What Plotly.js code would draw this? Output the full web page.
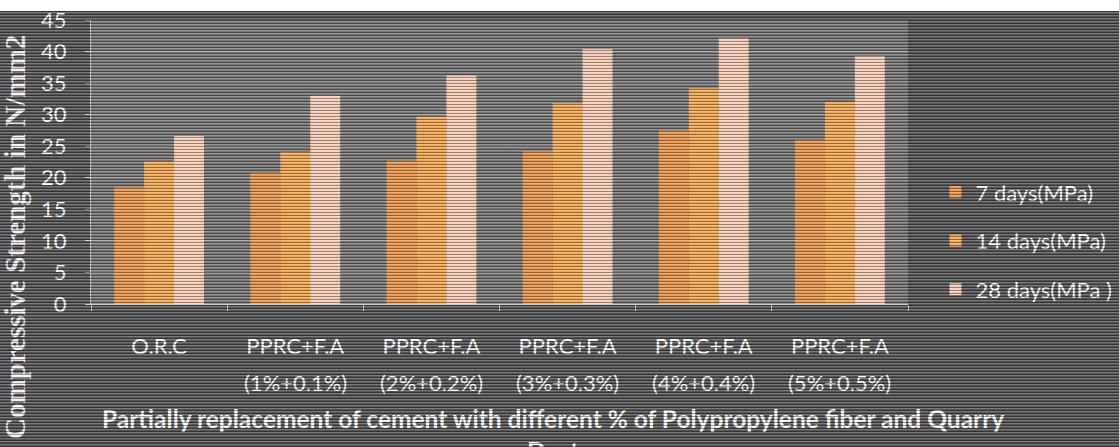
<!DOCTYPE html>
<html>
<head>
<meta charset="utf-8">
<script src="https://cdn.plot.ly/plotly-3.0.1.min.js"></script>
<style>
  html, body { margin: 0; padding: 0; background: #ffffff; }
  #wrap { position: relative; width: 1119px; height: 447px; overflow: hidden; background: #ffffff; }
  #bg { position: absolute; left: 0; top: 11px; width: 1119px; height: 436px; background: #555555; }
  #chart { position: absolute; left: 0; top: 0; width: 1119px; height: 447px; }
  #scan {
    position: absolute; left: 0; top: 11px; width: 1119px; height: 436px; pointer-events: none;
    background: repeating-linear-gradient(to bottom,
      rgba(0,0,0,0.38) 0px, rgba(0,0,0,0.38) 1px,
      rgba(255,255,255,0.22) 1px, rgba(255,255,255,0.22) 2px,
      rgba(0,0,0,0) 2px, rgba(0,0,0,0) 3px);
  }
</style>
</head>
<body>
<div id="wrap">
  <div id="bg"></div>
  <div id="chart"></div>
  <div id="scan"></div>
</div>
<script>
// Mix designations along the x axis (first and second label line)
const mixNames = ['O.R.C', 'PPRC+F.A', 'PPRC+F.A', 'PPRC+F.A', 'PPRC+F.A', 'PPRC+F.A'];
const mixDoses = ['', '(1%+0.1%)', '(2%+0.2%)', '(3%+0.3%)', '(4%+0.4%)', '(5%+0.5%)'];
const categories = mixNames.map((n, i) => (n + ' ' + mixDoses[i]).trim());

// Compressive strength (N/mm2) at each curing age
const days7  = [18.5, 20.8, 22.7, 24.2, 27.5, 26.0];
const days14 = [22.6, 24.1, 29.7, 31.8, 34.2, 32.0];
const days28 = [26.6, 33.0, 36.2, 40.4, 42.1, 39.3];

const seriesNames = ['7 days(MPa)', '14 days(MPa)', '28 days(MPa )'];
const yTicks = [0, 5, 10, 15, 20, 25, 30, 35, 40, 45];

const xTitle = 'Partially replacement of cement with different % of Polypropylene fiber and Quarry<br>Dust';
const yTitle = 'Compressive Strength in N/mm2';

const font = 'Lato, "Open Sans", sans-serif';
const colors = ['#ea974f', '#f4a954', '#f8cdb8'];

const traces = [days7, days14, days28].map((vals, i) => ({
  type: 'bar',
  name: seriesNames[i],
  legendgroup: 'g' + i,
  x: categories,
  y: vals,
  marker: { color: colors[i], line: { width: 0 } },
  hoverinfo: 'skip'
}));

// Second line of each category label, placed under the axis tick label
const doseLabels = categories.map((c, i) => ({
  text: mixDoses[i],
  xref: 'x', yref: 'paper',
  x: c, y: -0.275,
  xanchor: 'center', yanchor: 'middle',
  showarrow: false,
  font: { family: font, size: 22, color: '#ffffff' }
}));

const layout = {
  width: 1119,
  height: 447,
  margin: { l: 91, r: 211, t: 20, b: 143, autoexpand: false },
  paper_bgcolor: 'rgba(0,0,0,0)',
  plot_bgcolor: 'rgba(255,255,255,0.2)',
  barmode: 'group',
  bargap: 0.34,
  bargroupgap: 0,
  font: { family: font, color: '#ffffff', size: 22 },
  showlegend: true,
  legend: {
    xref: 'container', yref: 'container',
    x: 0.836, xanchor: 'left',
    y: 0.617, yanchor: 'top',
    bgcolor: 'rgba(0,0,0,0)',
    traceorder: 'grouped',
    tracegroupgap: 17,
    font: { family: font, size: 22, color: '#ffffff' }
  },
  xaxis: {
    type: 'category',
    tickson: 'boundaries',
    ticks: 'outside',
    ticklen: 6,
    tickcolor: '#cfcfcf',
    showline: true,
    linecolor: '#cfcfcf',
    linewidth: 1,
    showgrid: false,
    tickvals: categories,
    ticktext: mixNames,
    tickfont: { family: font, size: 22, color: '#ffffff' },
    ticklabelstandoff: 23
  },
  yaxis: {
    range: [0, 45],
    tickvals: yTicks,
    ticks: 'outside',
    ticklen: 5,
    tickcolor: '#cfcfcf',
    showline: true,
    linecolor: '#cfcfcf',
    linewidth: 1,
    showgrid: true,
    gridcolor: 'rgba(255,255,255,0.28)',
    gridwidth: 1,
    zeroline: false,
    tickfont: { family: font, size: 22, color: '#ffffff' },
    ticklabelstandoff: 14
  },
  annotations: doseLabels.concat([
    {
      text: xTitle,
      xref: 'paper', yref: 'paper',
      x: 0.565, y: -0.345, xanchor: 'center', yanchor: 'top',
      showarrow: false,
      font: { family: font, size: 24.5, color: '#ffffff', weight: 'bold' },
      align: 'center'
    },
    {
      text: yTitle,
      xref: 'paper', yref: 'paper',
      x: -0.093, y: 0.236, xanchor: 'center', yanchor: 'middle',
      textangle: -90,
      showarrow: false,
      font: { family: '"Liberation Serif", "Times New Roman", serif', size: 29, color: '#f2f2f2', weight: 'bold' }
    }
  ])
};

Plotly.newPlot('chart', traces, layout, { displayModeBar: false, staticPlot: true });
</script>
</body>
</html>
